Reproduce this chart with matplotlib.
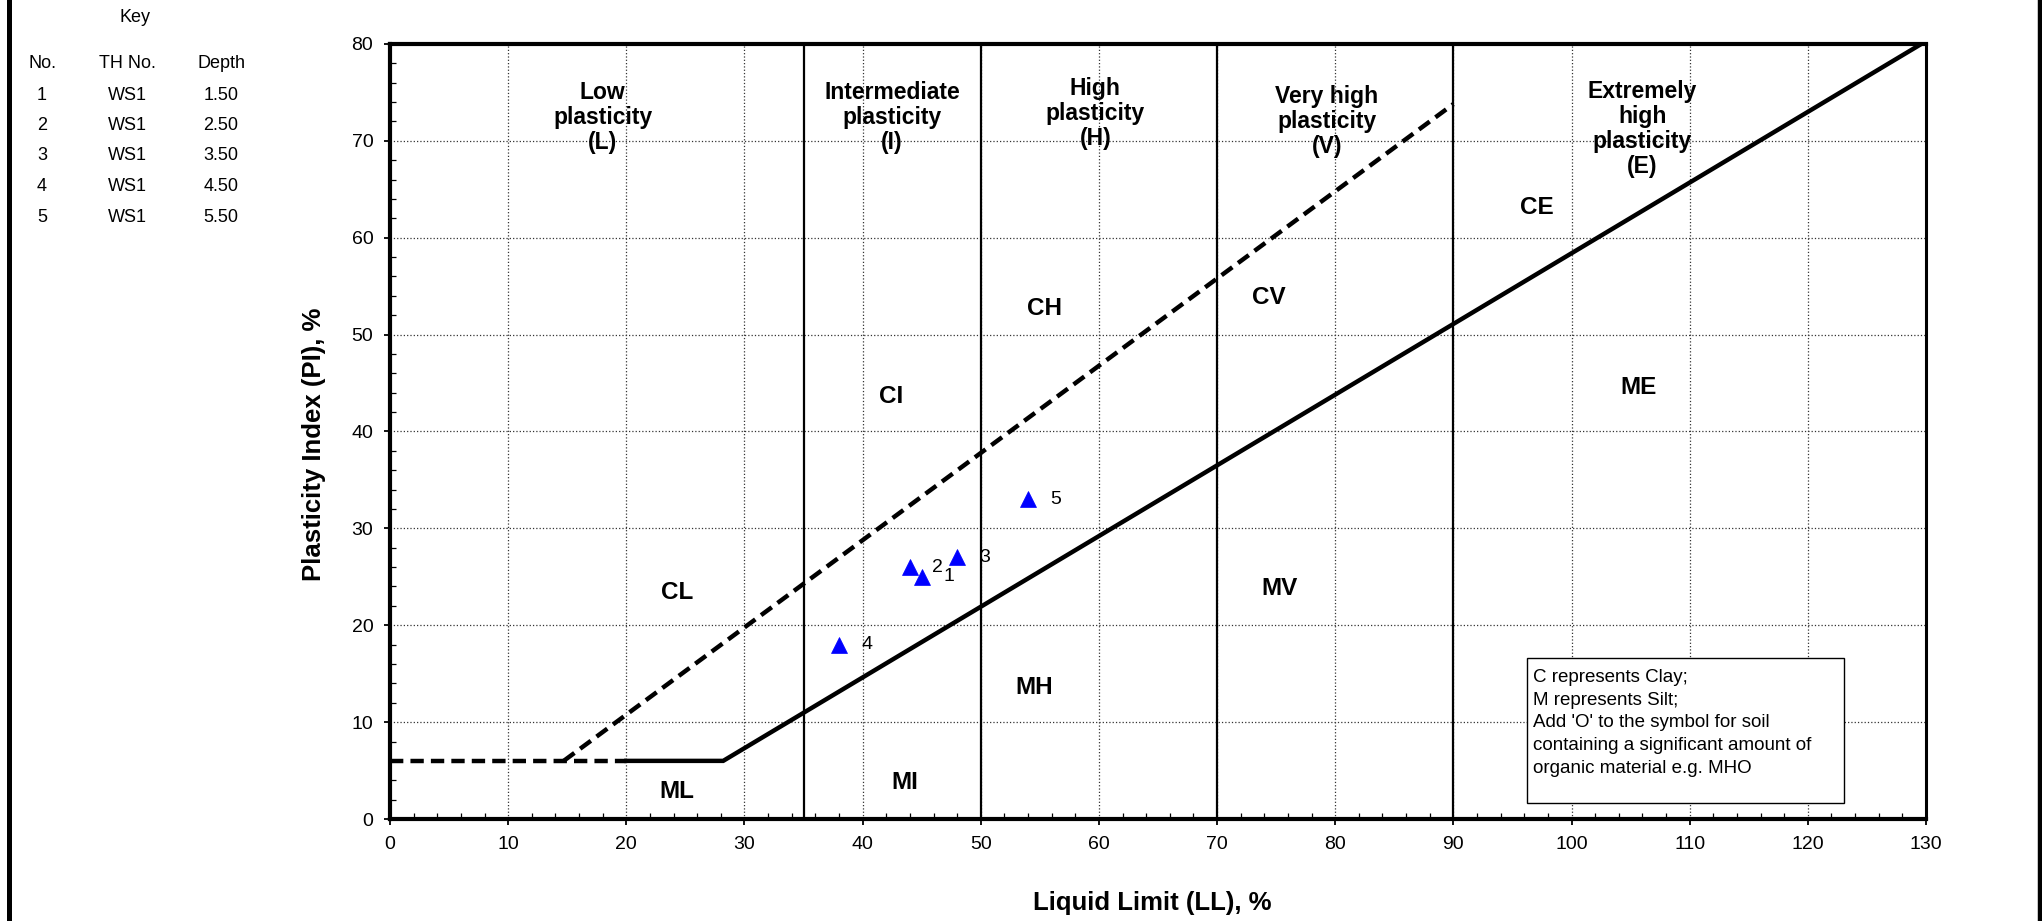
import matplotlib
matplotlib.use("Agg")
import matplotlib.pyplot as plt
from matplotlib.lines import Line2D
from matplotlib.patches import Rectangle
from matplotlib.ticker import MultipleLocator

plt.rcParams['font.family'] = ['Liberation Sans', 'DejaVu Sans']

# ---------------- data ----------------
point_no = [1, 2, 3, 4, 5]
point_ll = [45, 44, 48, 38, 54]
point_pi = [25, 26, 27, 18, 33]

key_th = ['WS1', 'WS1', 'WS1', 'WS1', 'WS1']
key_depth = ['1.50', '2.50', '3.50', '4.50', '5.50']

# classification boundaries
a_line_ll = [20, 28.2, 129.6]
a_line_pi = [6, 6, 80]
a_dash_ll = [0, 20]
a_dash_pi = [6, 6]
u_line_ll = [14.7, 90]
u_line_pi = [6, 73.8]
zone_bounds = [35, 50, 70, 90]

range_labels = ['Low\nplasticity\n(L)', 'Intermediate\nplasticity\n(I)',
                'High\nplasticity\n(H)', 'Very high\nplasticity\n(V)',
                'Extremely\nhigh\nplasticity\n(E)']
range_label_x = [18, 42.5, 59.7, 79.3, 106]
range_label_y = [72.4, 72.4, 72.8, 72.0, 71.2]

zone_labels = ['CL', 'ML', 'CI', 'MI', 'CH', 'MH', 'CV', 'MV', 'CE', 'ME']
zone_x = [24.3, 24.3, 42.4, 43.6, 55.4, 54.5, 74.4, 75.3, 97.1, 105.7]
zone_y = [23.4, 2.8, 43.6, 3.8, 52.7, 13.6, 53.8, 23.8, 63.1, 44.5]

note_lines = ["C represents Clay;", "M represents Silt;",
              "Add 'O' to the symbol for soil",
              "containing a significant amount of",
              "organic material e.g. MHO"]

# ---------------- figure ----------------
W, H = 2042, 921
fig = plt.figure(figsize=(W / 100, H / 100), dpi=100)
ax = fig.add_axes([390 / W, 1 - 819 / H, (1926 - 390) / W, (819 - 44) / H])

ax.set_xlim(0, 130)
ax.set_ylim(0, 80)
ax.xaxis.set_major_locator(MultipleLocator(10))
ax.yaxis.set_major_locator(MultipleLocator(10))
ax.xaxis.set_minor_locator(MultipleLocator(2))
ax.yaxis.set_minor_locator(MultipleLocator(2))
ax.tick_params(which='major', direction='out', length=4, width=1.3,
               labelsize=14, pad=8)
ax.tick_params(which='minor', direction='in', length=4, width=0.9)
ax.grid(True, which='major', linestyle=':', color='#333333', linewidth=0.9)
ax.set_axisbelow(True)
for side in ['left', 'bottom', 'top']:
    ax.spines[side].set_linewidth(3.0)
ax.spines['right'].set_linewidth(2.2)

for xb in zone_bounds:
    ax.plot([xb, xb], [0, 80], color='black', linewidth=1.6, zorder=2)

ax.plot(a_line_ll, a_line_pi, color='black', linewidth=3.2,
        solid_joinstyle='miter', zorder=3, clip_on=True)
ax.plot(a_dash_ll, a_dash_pi, color='black', linewidth=3.2,
        dashes=(3, 1.6), zorder=3)
ax.plot(u_line_ll, u_line_pi, color='black', linewidth=3.2,
        dashes=(3, 1.6), zorder=3)

for txt, x, y in zip(range_labels, range_label_x, range_label_y):
    ax.text(x, y, txt, ha='center', va='center', fontsize=16.5,
            fontweight='bold', linespacing=1.12, zorder=4)

for txt, x, y in zip(zone_labels, zone_x, zone_y):
    ax.text(x, y, txt, ha='center', va='center', fontsize=17.5,
            fontweight='bold', zorder=4)

ax.plot(point_ll, point_pi, linestyle='none', marker='^', markersize=11,
        color='#0000FF', markeredgewidth=0.5, zorder=5)
for n, x, y in zip(point_no, point_ll, point_pi):
    ax.annotate(str(n), (x, y), xytext=(16, 0), textcoords='offset points',
                ha='left', va='center', fontsize=14, zorder=5)

# axis labels
fig.text(1152 / W, 1 - 910 / H, 'Liquid Limit (LL), %', ha='center',
         va='baseline', fontsize=18.5, fontweight='bold')
fig.text(314 / W, 1 - 444 / H, 'Plasticity Index (PI), %', ha='center',
         va='center', rotation=90, fontsize=18.5, fontweight='bold')

# note box
fig.patches.append(Rectangle((1527 / W, 1 - 803 / H), (1844 - 1527) / W,
                             (803 - 658) / H, transform=fig.transFigure,
                             facecolor='white', edgecolor='black',
                             linewidth=1.0, zorder=6))
for i, line in enumerate(note_lines):
    fig.text(1533 / W, 1 - (682 + 22.7 * i) / H, line, ha='left',
             va='baseline', fontsize=13.5, zorder=7)

# key table
fig.text(135 / W, 1 - 17 / H, 'Key', ha='center', va='center', fontsize=13)
col_x = [42, 127, 221]
for cx, head in zip(col_x, ['No.', 'TH No.', 'Depth']):
    fig.text(cx / W, 1 - 63 / H, head, ha='center', va='center', fontsize=13)
for i, (n, th, d) in enumerate(zip(point_no, key_th, key_depth)):
    yy = 1 - (95 + 30.5 * i) / H
    fig.text(col_x[0] / W, yy, str(n), ha='center', va='center', fontsize=13)
    fig.text(col_x[1] / W, yy, th, ha='center', va='center', fontsize=13)
    fig.text(col_x[2] / W, yy, d, ha='center', va='center', fontsize=13)

# page borders
fig.add_artist(Line2D([8.5 / W, 8.5 / W], [0, 1], color='black',
                      linewidth=3.6, transform=fig.transFigure))
fig.add_artist(Line2D([2039.5 / W, 2039.5 / W], [0, 1], color='black',
                      linewidth=3.2, transform=fig.transFigure))

fig.savefig('out.png', dpi=100, facecolor='white')
